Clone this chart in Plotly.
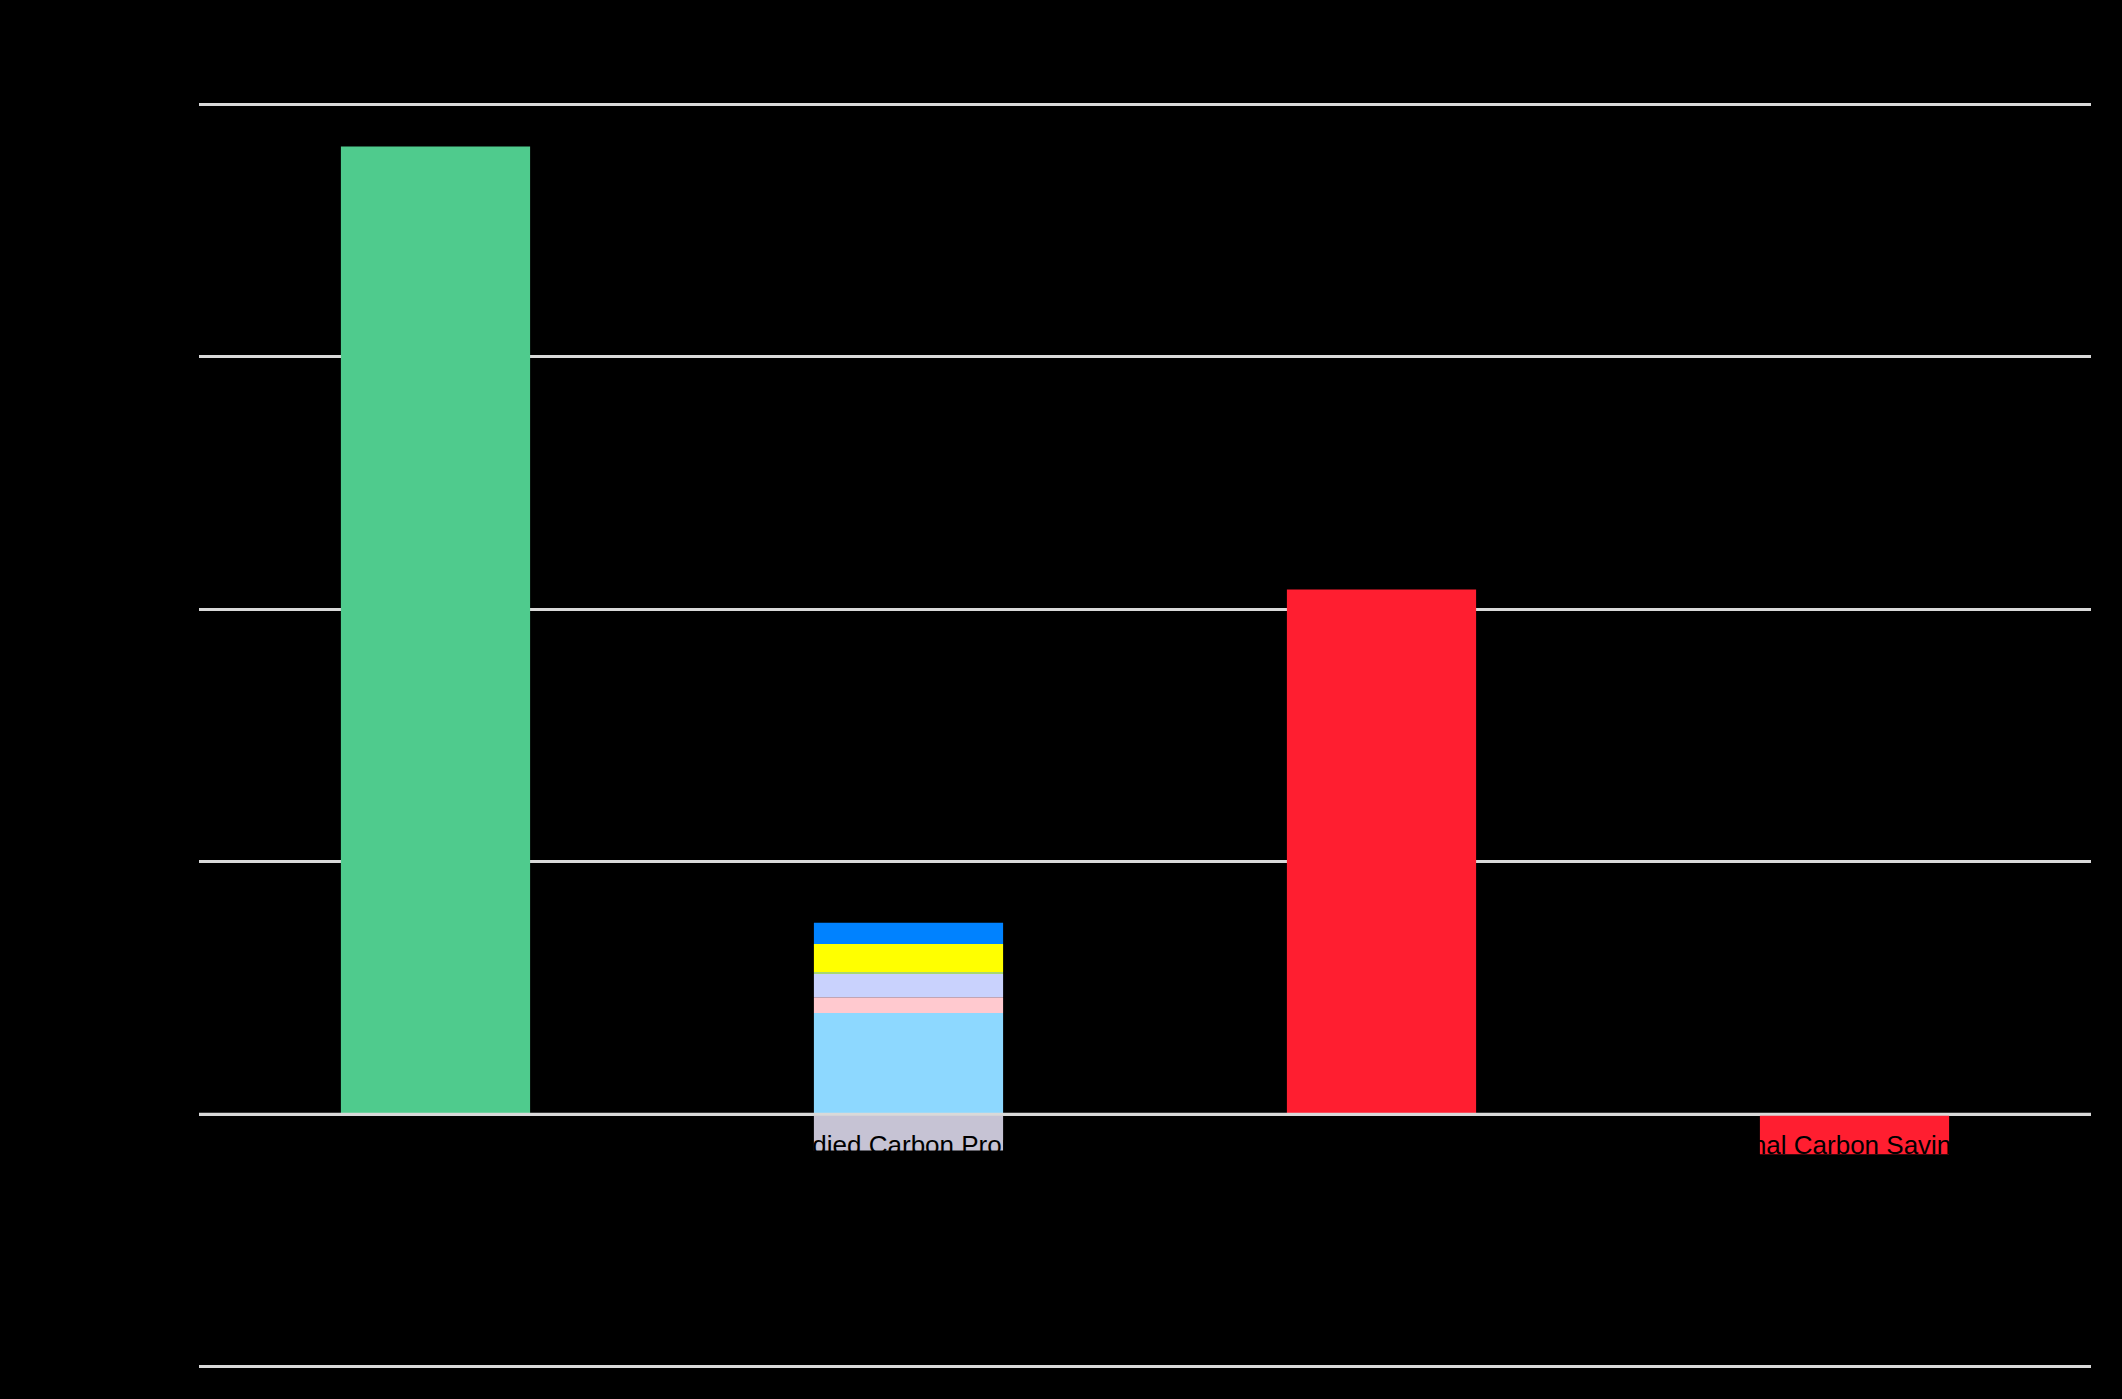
"""
Carbon comparison chart: stacked embodied carbon vs. operational figures.
"""

import plotly.graph_objects as go

# Categories along the x axis
categories = [
    "Embodied Carbon Retained",
    "Embodied Carbon Proposed",
    "Operational Carbon Savings",
    "Final Carbon Savings",
]

# Single bars
retained_value = [383.2]
operational_value = [207.8]
final_value = [-15.8]

# Breakdown of the proposed bar (bottom to top), plus negative part
proposed_parts = ["Substructure", "Superstructure", "Facade", "Services", "Finishes", "External works"]
proposed_values = [40.1, 6.3, 9.2, 0.8, 11.1, 8.4]
proposed_colors = ["#8dd8ff", "#ffc9cf", "#c9d2fd", "#a9d86e", "#ffff00", "#0082ff"]
benefit_value = [-14.3]

y_ticks = [-100, 0, 100, 200, 300, 400]
y_range = [-102, 402]

FONT = "Liberation Sans, Arial, sans-serif"

fig = go.Figure()

fig.add_trace(
    go.Bar(x=[categories[0]], y=retained_value, marker_color="#4fcb8d", name="Retained")
)
for part, val, col in zip(proposed_parts, proposed_values, proposed_colors):
    fig.add_trace(go.Bar(x=[categories[1]], y=[val], marker_color=col, name=part))
fig.add_trace(
    go.Bar(x=[categories[1]], y=benefit_value, marker_color="#c6c3d4", name="Benefits")
)
fig.add_trace(
    go.Bar(x=[categories[2]], y=operational_value, marker_color="#ff1e30", name="Operational")
)
fig.add_trace(
    go.Bar(x=[categories[3]], y=final_value, marker_color="#ff1e30", name="Final")
)

fig.update_traces(marker_line_width=0)

# Zero line drawn over the bars
fig.add_shape(
    type="line", xref="paper", yref="y", x0=0, x1=1, y0=0, y1=0,
    line=dict(color="#d9d9d9", width=3), layer="above",
)

fig.update_layout(
    barmode="relative",
    bargap=0.6,
    showlegend=False,
    paper_bgcolor="black",
    plot_bgcolor="black",
    font=dict(family=FONT, size=26, color="black"),
    width=2122,
    height=1399,
    margin=dict(l=199, r=31, t=99, b=27),
    xaxis=dict(
        categoryorder="array",
        categoryarray=categories,
        anchor="free",
        position=(0 - y_range[0]) / (y_range[1] - y_range[0]),
        showgrid=False,
        zeroline=False,
        showline=False,
        ticks="",
        ticklabelstandoff=13,
        tickfont=dict(family=FONT, size=26, color="black"),
    ),
    yaxis=dict(
        range=y_range,
        tickvals=y_ticks,
        showgrid=True,
        gridcolor="#d9d9d9",
        gridwidth=3,
        zeroline=False,
        ticks="",
        tickfont=dict(family=FONT, size=26, color="black"),
    ),
)

fig.write_html(
    "out.html",
    config={"displayModeBar": False},
    post_script="document.body.style.margin='0';document.body.style.background='black';",
)
